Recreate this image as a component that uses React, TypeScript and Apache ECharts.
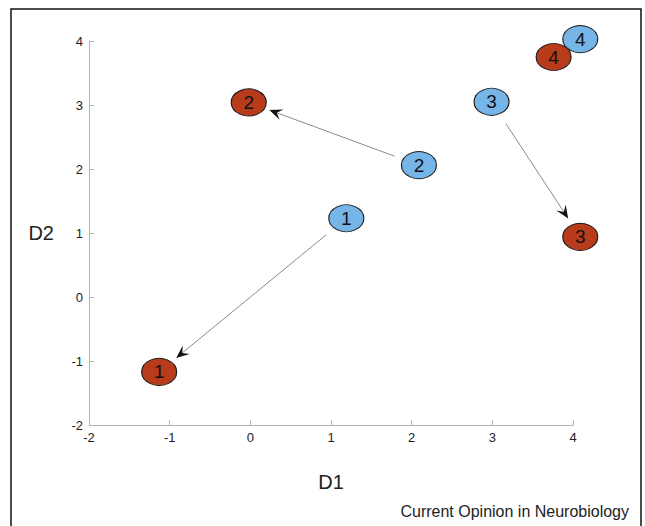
import React, { useEffect, useRef } from "react";
import * as echarts from "echarts";

// Values
const pointLabels = ["1", "2", "3", "4"];
const blueX = [1.19, 2.09, 2.99, 4.09];
const blueY = [1.23, 2.06, 3.05, 4.03];
const redX = [-1.13, -0.02, 4.09, 3.76];
const redY = [-1.17, 3.04, 0.94, 3.75];
const arrowPairs = [0, 1, 2]; // blue i -> red i
const xTicks = [-2, -1, 0, 1, 2, 3, 4];
const yTicks = [-2, -1, 0, 1, 2, 3, 4];

const FONT = "Liberation Sans, Arial, Helvetica, sans-serif";

export default function App() {
  const ref = useRef<HTMLDivElement>(null);
  useEffect(() => {
    if (!ref.current) return;
    const chart = echarts.init(ref.current, undefined, { renderer: "svg" });

    const blueData = blueX.map((x, i) => [x, blueY[i], pointLabels[i]]);
    const redData = redX.map((x, i) => [x, redY[i], pointLabels[i]]);
    const arrowData = arrowPairs.map((i) => [blueX[i], blueY[i], redX[i], redY[i]]);

    const axisCommon = {
      type: "value" as const,
      interval: 1,
      axisLine: { show: true, onZero: false, lineStyle: { color: "#b4b4b4", width: 1 } },
      axisTick: { show: true, inside: true, length: 5, lineStyle: { color: "#b4b4b4" } },
      splitLine: { show: false },
      axisLabel: { color: "#222", fontSize: 13, fontFamily: FONT, margin: 6 },
    };

    const labelCfg = {
      show: true,
      position: "inside" as const,
      formatter: (p: any) => p.value[2],
      fontSize: 19,
      fontFamily: FONT,
      color: "#111",
    };

    chart.setOption({
      animation: false,
      backgroundColor: "#fff",
      grid: { left: 89, top: 41, width: 484, height: 384, containLabel: false },
      xAxis: {
        ...axisCommon,
        min: xTicks[0],
        max: xTicks[xTicks.length - 1],
        name: "D1",
        nameLocation: "middle",
        nameGap: 47,
        nameTextStyle: { fontSize: 20, fontFamily: FONT, color: "#222" },
      },
      yAxis: {
        ...axisCommon,
        min: yTicks[0],
        max: yTicks[yTicks.length - 1],
        name: "D2",
        nameLocation: "middle",
        nameGap: 35,
        nameRotate: 0,
        nameTextStyle: { fontSize: 20, fontFamily: FONT, color: "#222" },
      },
      graphic: [
        {
          type: "polyline",
          shape: { points: [[11, 540], [11, 9], [641, 9], [641, 540]] },
          style: { stroke: "#111", lineWidth: 1.5, fill: "none" },
          silent: true,
        },
        {
          type: "text",
          right: 16,
          top: 503,
          style: {
            text: "Current Opinion in Neurobiology",
            fontSize: 16,
            fontFamily: FONT,
            fill: "#222",
          },
        },
      ],
      series: [
        {
          type: "custom",
          clip: false,
          z: 1,
          encode: { x: [0, 2], y: [1, 3] },
          data: arrowData,
          renderItem: (params: any, api: any) => {
            const p1 = api.coord([api.value(0), api.value(1)]);
            const p2 = api.coord([api.value(2), api.value(3)]);
            const dx = p2[0] - p1[0];
            const dy = p2[1] - p1[1];
            const len = Math.sqrt(dx * dx + dy * dy);
            const ux = dx / len;
            const uy = dy / len;
            const nx = -uy;
            const ny = ux;
            const s = [p1[0] + ux * 26, p1[1] + uy * 26];
            const e = [p2[0] - ux * 22, p2[1] - uy * 22];
            const headLen = 13;
            const headW = 5.5;
            const back = [e[0] - ux * headLen, e[1] - uy * headLen];
            const notch = [e[0] - ux * headLen * 0.6, e[1] - uy * headLen * 0.6];
            return {
              type: "group",
              children: [
                {
                  type: "line",
                  shape: { x1: s[0], y1: s[1], x2: notch[0], y2: notch[1] },
                  style: { stroke: "#8a8a8a", lineWidth: 1 },
                },
                {
                  type: "polygon",
                  shape: {
                    points: [
                      e,
                      [back[0] + nx * headW, back[1] + ny * headW],
                      notch,
                      [back[0] - nx * headW, back[1] - ny * headW],
                    ],
                  },
                  style: { fill: "#111", stroke: "none" },
                },
              ],
            };
          },
        },
        {
          type: "scatter",
          name: "after",
          clip: false,
          z: 3,
          symbol: "circle",
          symbolSize: [35, 27],
          data: redData,
          itemStyle: { color: "#b83b1b", borderColor: "#1a1a1a", borderWidth: 1, opacity: 1 },
          label: labelCfg,
        },
        {
          type: "scatter",
          name: "before",
          clip: false,
          z: 4,
          symbol: "circle",
          symbolSize: [35, 27],
          data: blueData,
          itemStyle: { color: "#76b5e8", borderColor: "#1a1a1a", borderWidth: 1, opacity: 1 },
          label: labelCfg,
        },
      ],
    });
    return () => chart.dispose();
  }, []);

  return (
    <div
      ref={ref}
      style={{ position: "absolute", left: 0, top: 0, width: 645, height: 526 }}
    />
  );
}
